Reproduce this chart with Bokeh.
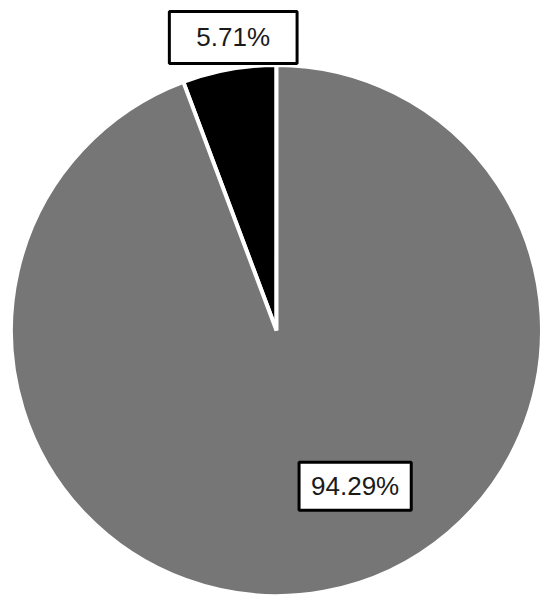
import math
from bokeh.plotting import figure
from bokeh.models import Range1d, Label, ColumnDataSource
from bokeh.embed import file_html
from bokeh.resources import INLINE

# data
categories = ["Slice 1", "Slice 2"]
shares = [5.71, 94.29]
colors = ["#000000", "#767676"]
label_texts = ["5.71%", "94.29%"]

W, H = 542, 597
R_PX = 265.5
CX, CY = 276.0, 330.0  # centre in figure pixels (from top-left)

p = figure(width=W, height=H, output_backend="svg", toolbar_location=None,
           x_range=Range1d(-CX / R_PX, (W - CX) / R_PX),
           y_range=Range1d(-(H - CY) / R_PX, CY / R_PX),
           min_border=0, min_border_left=0, min_border_right=0,
           min_border_top=0, min_border_bottom=0)
p.axis.visible = False
p.grid.visible = False
p.outline_line_color = None
p.background_fill_color = "white"
p.border_fill_color = "white"

total = sum(shares)
starts, ends = [], []
acc = math.pi / 2
for s in shares:
    starts.append(acc)
    acc += s / total * 2 * math.pi
    ends.append(acc)

src = ColumnDataSource(dict(cat=categories, start=starts, end=ends, color=colors))
p.wedge(x=0, y=0, radius=1.0, start_angle="start", end_angle="end",
        direction="anticlock", fill_color="color", line_color="white",
        line_width=4, source=src)

# label placement (angle in degrees, radius as fraction, padding)
placement = [(98.4, 1.116, (27, 11)), (-63.2, 0.657, (12, 9))]
for txt, (ang, rr, pad) in zip(label_texts, placement):
    a = math.radians(ang)
    lab = Label(x=rr * math.cos(a), y=rr * math.sin(a), text=txt,
                text_align="center", text_baseline="middle",
                text_font="Liberation Sans", text_font_size="26px",
                text_color="#1a1a1a",
                background_fill_color="white", background_fill_alpha=1.0,
                border_line_color="black", border_line_width=3,
                padding=pad)
    p.add_layout(lab)

open("out.html", "w").write(file_html(p, INLINE))
